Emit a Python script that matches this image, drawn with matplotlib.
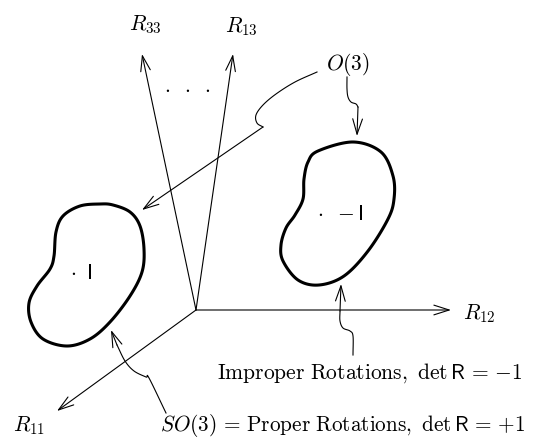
import numpy as np
import matplotlib
matplotlib.use("Agg")
import matplotlib.pyplot as plt
from matplotlib.patches import Polygon

plt.rcParams['mathtext.fontset'] = 'cm'

W, H = 543, 439

# ---- diagram data (pixel coordinates of the reference drawing) ----
origin = (196, 311)
axis_tips = {"R12": (451, 311), "R11": (57, 412), "R33": (142, 55), "R13": (233, 55)}
axis_labels = {
    "R12": (r"$R_{12}$", (463, 314), "left"),
    "R11": (r"$R_{11}$", (29, 426), "center"),
    "R33": (r"$R_{33}$", (145, 25), "center"),
    "R13": (r"$R_{13}$", (241, 27), "center"),
}

left_blob_x = [100, 113, 130, 140, 144, 142, 130, 110, 90, 67, 43, 31, 29, 37, 50, 54, 56, 63, 80]
left_blob_y = [205, 206, 213, 227, 250, 273, 297, 323, 340, 347, 340, 323, 304, 287, 270, 257, 233, 217, 207]

right_blob_x = [353, 381, 393, 394, 388, 368, 344, 319, 298, 283, 281, 286, 295, 303, 304, 308, 318]
right_blob_y = [143, 153, 177, 200, 220, 252, 277, 286, 281, 262, 246, 229, 216, 200, 180, 163, 152]

# curvy pointer arrows: (smooth part, straight part ending at tip)
o3_left_curve = [(317, 73), (295, 83), (276, 95), (263, 106), (256, 116), (257, 124), (263, 128)]
o3_left_tip = (142, 211)
o3_right_curve = [(347, 78), (347, 90), (348, 98), (351, 103), (356, 105), (358, 108)]
o3_right_tip = (357, 137)
improper_curve = [(353, 356), (353, 337), (350, 332), (343, 329), (340, 322), (340, 312)]
improper_tip = (341, 285)
so3_curve = [(166, 414), (149, 379), (146, 378), (134, 372), (125, 362), (117, 346)]
so3_tip = (111, 331)

texts = [
    (r"$O(3)$", (348, 65), "center", 15.5),
    (r"$.\;\;.\;\;.$", (187, 86), "center", 15.5),
    (r"$\cdot\;\;-\mathsf{I}$", (317, 214), "left", 15.5),
    (r"$\cdot\;\;\mathsf{I}$", (70, 273), "left", 15.5),
    (r"$\mathrm{Improper\ Rotations,\ }\det\mathsf{R}\,=\,{-1}$", (217, 373), "left", 15.5),
    (r"$SO(3)\,=\,\mathrm{Proper\ Rotations,\ }\det\mathsf{R}\,=\,{+1}$", (160, 426), "left", 15.3),
]


def catmull_rom(pts, closed=False, n=20):
    pts = np.asarray(pts, float)
    if closed:
        P = np.vstack([pts[-1], pts, pts[0], pts[1]])
    else:
        P = np.vstack([2 * pts[0] - pts[1], pts, 2 * pts[-1] - pts[-2]])
    out = []
    for i in range(1, len(P) - 2):
        p0, p1, p2, p3 = P[i - 1], P[i], P[i + 1], P[i + 2]
        t = np.linspace(0, 1, n, endpoint=False)[:, None]
        seg = 0.5 * ((2 * p1) + (-p0 + p2) * t + (2 * p0 - 5 * p1 + 4 * p2 - p3) * t ** 2
                     + (-p0 + 3 * p1 - 3 * p2 + p3) * t ** 3)
        out.append(seg)
    if not closed:
        out.append(P[-2][None, :])
    return np.vstack(out)


fig = plt.figure(figsize=(W / 100, H / 100), dpi=100)
ax = fig.add_axes([0, 0, 1, 1])
ax.set_xlim(0, W)
ax.set_ylim(H, 0)
ax.axis("off")

AS = "->,head_length=1.1,head_width=0.35"


def arrow(tail, tip, lw=0.8):
    ax.annotate("", xy=tip, xytext=tail,
                arrowprops=dict(arrowstyle=AS, lw=lw, color="black",
                                shrinkA=0, shrinkB=0, mutation_scale=10))


# axes
for k, tip in axis_tips.items():
    arrow(origin, tip)
for k, (s, pos, ha) in axis_labels.items():
    ax.text(pos[0], pos[1], s, fontsize=15.5, ha=ha, va="center")

# blobs
for bx, by in [(left_blob_x, left_blob_y), (right_blob_x, right_blob_y)]:
    c = catmull_rom(list(zip(bx, by)), closed=True)
    ax.add_patch(Polygon(c, closed=True, fill=False, edgecolor="black",
                         lw=2.2, joinstyle="round"))

# curvy pointers
for curve, tip in [(o3_left_curve, o3_left_tip), (o3_right_curve, o3_right_tip),
                   (improper_curve, improper_tip), (so3_curve, so3_tip)]:
    c = catmull_rom(curve)
    ax.plot(c[:, 0], c[:, 1], color="black", lw=0.8)
    arrow(curve[-1], tip)

for s, pos, ha, fs in texts:
    ax.text(pos[0], pos[1], s, fontsize=fs, ha=ha, va="center")

fig.savefig("out.png", dpi=100, facecolor="white")
